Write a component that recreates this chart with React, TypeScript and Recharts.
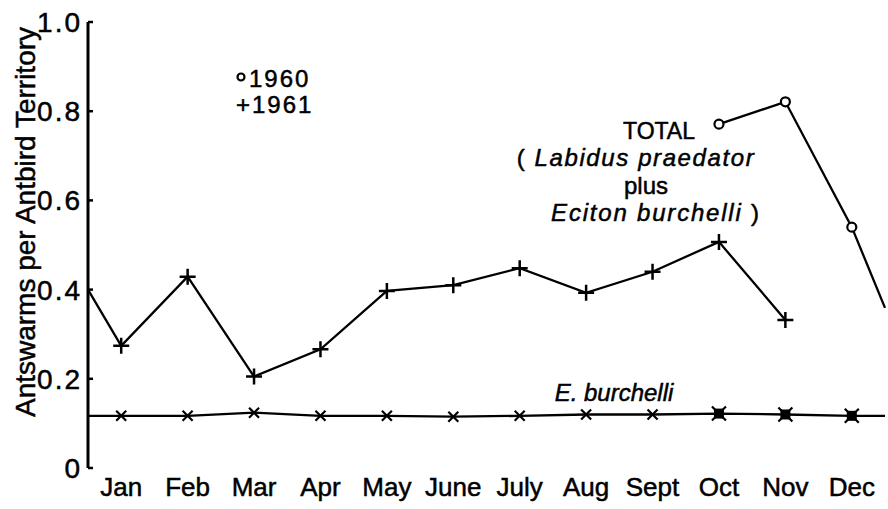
import { Line, LineChart, XAxis, YAxis } from 'recharts'

const months = ['Jan', 'Feb', 'Mar', 'Apr', 'May', 'June', 'July', 'Aug', 'Sept', 'Oct', 'Nov', 'Dec']
const total1960 = [null, null, null, null, null, null, null, null, null, 0.771, 0.821, 0.54]
const total1961 = [0.274, 0.429, 0.205, 0.266, 0.397, 0.41, 0.448, 0.393, 0.44, 0.507, 0.332, null]
const burchelli = [0.117, 0.117, 0.124, 0.117, 0.117, 0.115, 0.117, 0.12, 0.12, 0.122, 0.12, 0.117]
// months where both years fall on the same E. burchelli mark
const burchelliBothYears = ['Oct', 'Nov', 'Dec']
// where the curves leave the plot (carried in from Dec / out to the next Jan)
const edgeStart1961 = 0.4
const edgeEnd1960 = 0.359
const edgeBurchelli = 0.117
const yTicks = [0, 0.2, 0.4, 0.6, 0.8, 1]
const monthEdges = Array.from({ length: 13 }, (_, i) => i)
const monthMids = months.map((_, i) => i + 0.5)

const data = [
  { x: 0, edge: true, t1961: edgeStart1961, eb: edgeBurchelli },
  ...months.map((m, i) => ({
    x: i + 0.5,
    month: m,
    t1960: total1960[i],
    t1961: total1961[i],
    eb: burchelli[i],
  })),
  { x: 12, edge: true, t1960: edgeEnd1960, eb: edgeBurchelli },
]

const FONT = 'Liberation Sans, Arial, sans-serif'
const INK = '#000'
// the original lettering is a bit heavier than Liberation regular
const heavy = { stroke: INK, strokeWidth: 0.5 }

const skip = (p: any) => p.payload?.edge || p.cy == null || p.value == null

const circleDot = (p: any) => {
  if (skip(p)) return <g key={`c${p.index}`} />
  return <circle key={`c${p.index}`} cx={p.cx} cy={p.cy} r={4.5} fill="#fff" stroke={INK} strokeWidth={2.2} />
}

const plusDot = (p: any) => {
  if (skip(p)) return <g key={`p${p.index}`} />
  const s = 8
  return (
    <path
      key={`p${p.index}`}
      d={`M${p.cx - s},${p.cy}H${p.cx + s}M${p.cx},${p.cy - s}V${p.cy + s}`}
      stroke={INK}
      strokeWidth={2.5}
      fill="none"
    />
  )
}

const crossDot = (p: any) => {
  if (skip(p)) return <g key={`x${p.index}`} />
  const both = burchelliBothYears.includes(p.payload.month)
  const s = both ? 7 : 5
  return (
    <g key={`x${p.index}`}>
      {both && <rect x={p.cx - 5} y={p.cy - 5} width={10} height={10} fill={INK} />}
      <path
        d={`M${p.cx - s},${p.cy - s}L${p.cx + s},${p.cy + s}M${p.cx - s},${p.cy + s}L${p.cx + s},${p.cy - s}`}
        stroke={INK}
        strokeWidth={2.2}
        fill="none"
      />
    </g>
  )
}

export default function App() {
  return (
    <div style={{ position: 'absolute', left: 0, top: 0, background: '#fff' }}>
      <LineChart width={888} height={509} data={data} margin={{ top: 22, right: 3, left: 0, bottom: 0 }}>
        <XAxis
          xAxisId="edge"
          type="number"
          dataKey="x"
          domain={[0, 12]}
          ticks={monthEdges}
          interval={0}
          height={0}
          tickSize={6}
          tickFormatter={() => ''}
          axisLine={{ stroke: INK, strokeWidth: 3 }}
          tickLine={{ stroke: INK, strokeWidth: 2.5 }}
        />
        <XAxis
          xAxisId="month"
          type="number"
          dataKey="x"
          domain={[0, 12]}
          ticks={monthMids}
          interval={0}
          height={41}
          axisLine={false}
          tickLine={false}
          tickSize={6}
          tickMargin={4}
          tickFormatter={(v) => months[Math.floor(v)]}
          tick={{ fill: INK, fontSize: 26, fontFamily: FONT, ...heavy }}
        />
        <YAxis
          type="number"
          domain={[0, 1]}
          ticks={yTicks}
          interval={0}
          width={88}
          tickSize={-5}
          tickMargin={11}
          tickFormatter={(v) => (v === 0 ? '0' : v.toFixed(1))}
          tick={{ fill: INK, fontSize: 28, fontFamily: FONT, letterSpacing: 2, ...heavy }}
          axisLine={{ stroke: INK, strokeWidth: 3 }}
          tickLine={{ stroke: INK, strokeWidth: 2.5 }}
        />
        <Line
          xAxisId="edge"
          dataKey="t1961"
          stroke={INK}
          strokeWidth={2.3}
          dot={plusDot}
          activeDot={false}
          isAnimationActive={false}
        />
        <Line
          xAxisId="edge"
          dataKey="t1960"
          stroke={INK}
          strokeWidth={2.3}
          dot={circleDot}
          activeDot={false}
          isAnimationActive={false}
        />
        <Line
          xAxisId="edge"
          dataKey="eb"
          stroke={INK}
          strokeWidth={2.3}
          dot={crossDot}
          activeDot={false}
          isAnimationActive={false}
        />

        <text
          x={35}
          y={222}
          transform="rotate(-90 35 222)"
          textAnchor="middle"
          fontFamily={FONT}
          fontSize={28}
          fill={INK}
          {...heavy}
        >
          Antswarms per Antbird Territory
        </text>

        <circle cx={241} cy={77} r={3.5} fill="#fff" stroke={INK} strokeWidth={2.2} />
        <text x={249} y={87} fontFamily={FONT} fontSize={24} letterSpacing={2} fill={INK} {...heavy}>
          1960
        </text>
        <text x={236} y={113} fontFamily={FONT} fontSize={24} letterSpacing={2} fill={INK} {...heavy}>
          +1961
        </text>

        <text x={659} y={139} textAnchor="middle" fontFamily={FONT} fontSize={23} fill={INK} {...heavy}>
          TOTAL
        </text>
        <text x={636} y={166} textAnchor="middle" fontFamily={FONT} fontSize={24} fill={INK} letterSpacing={1.6} {...heavy}>
          ( <tspan fontStyle="italic">Labidus praedator</tspan>
        </text>
        <text x={646} y={194} textAnchor="middle" fontFamily={FONT} fontSize={24} fill={INK} {...heavy}>
          plus
        </text>
        <text x={656} y={221} textAnchor="middle" fontFamily={FONT} fontSize={24} fill={INK} letterSpacing={1.8} {...heavy}>
          <tspan fontStyle="italic">Eciton burchelli</tspan> )
        </text>

        <text x={614} y={401} textAnchor="middle" fontFamily={FONT} fontSize={24} fontStyle="italic" fill={INK} {...heavy}>
          E. burchelli
        </text>
      </LineChart>
    </div>
  )
}
